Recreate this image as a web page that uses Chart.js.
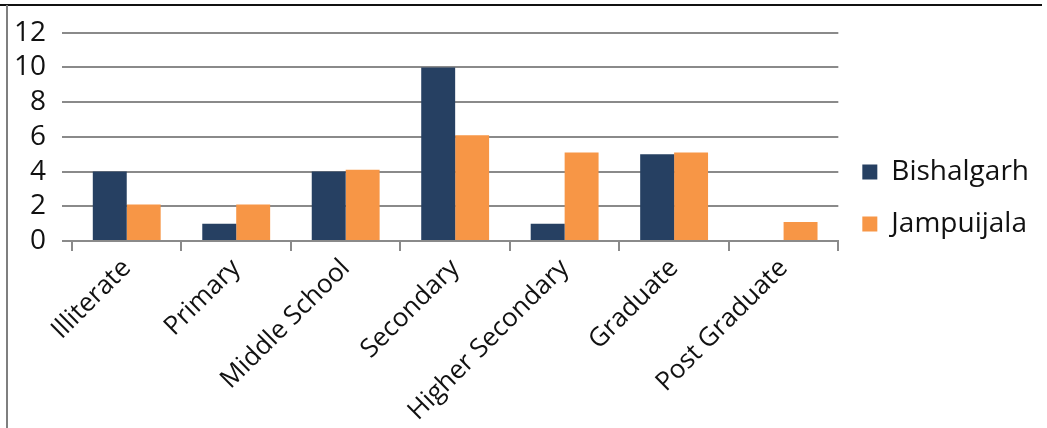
<!DOCTYPE html>
<html>
<head>
<meta charset="utf-8">
<script src="https://cdn.jsdelivr.net/npm/chart.js@4.4.1/dist/chart.umd.min.js"></script>
<style>
  html, body { margin: 0; padding: 0; background: #fff; }
  #wrap { position: relative; width: 1047px; height: 428px; }
  #frameTop { position: absolute; left: 0; top: 4px; width: 1042px; height: 2px; background: #111; }
  #frameLeft { position: absolute; left: 6px; top: 5px; width: 2px; height: 423px; background: #7f7f7f; }
</style>
</head>
<body>
<div id="wrap">
  <canvas id="eduChart" width="1047" height="428"></canvas>
  <div id="frameTop"></div>
  <div id="frameLeft"></div>
</div>
<script>
// Data
const categories = ['Illiterate', 'Primary', 'Middle School', 'Secondary', 'Higher Secondary', 'Graduate', 'Post Graduate'];
const bishalgarh = [4, 1, 4, 10, 1, 5, 0];
const jampuijala = [2.1, 2.1, 4.1, 6.1, 5.1, 5.1, 1.1];
const yTicks = [0, 2, 4, 6, 8, 10, 12];

const gridGrey = '#8a8a8a';
const fontFamily = '"Open Sans", Lato, sans-serif';

const ctx = document.getElementById('eduChart').getContext('2d');
const chart = new Chart(ctx, {
    type: 'bar',
    data: {
        labels: categories,
        datasets: [{
            label: 'Bishalgarh',
            data: bishalgarh,
            backgroundColor: '#264062',
            borderWidth: 0
        }, {
            label: 'Jampuijala',
            data: jampuijala,
            backgroundColor: '#f79646',
            borderWidth: 0
        }]
    },
    options: {
        responsive: false,
        animation: false,
        layout: {
            padding: { top: 28, bottom: 0, left: 0, right: 8 }
        },
        datasets: {
            bar: { categoryPercentage: 0.62, barPercentage: 1.0 }
        },
        plugins: {
            tooltip: { enabled: false },
            legend: {
                position: 'right',
                align: 'start',
                // empty title only pushes the two legend rows down
                title: { display: true, text: ' ', font: { size: 10 }, padding: { top: 94, bottom: 0 } },
                labels: {
                    color: '#111',
                    boxWidth: 15,
                    boxHeight: 15,
                    padding: 24,
                    font: { family: fontFamily, size: 28 }
                }
            }
        },
        scales: {
            x: {
                grid: {
                    display: true,
                    drawOnChartArea: false,
                    color: gridGrey,
                    lineWidth: 2,
                    tickLength: 10
                },
                border: { display: true, color: gridGrey, width: 2 },
                ticks: {
                    color: '#111',
                    maxRotation: 45,
                    minRotation: 45,
                    padding: 2,
                    autoSkip: false,
                    font: { family: fontFamily, size: 26 }
                },
                afterFit: s => { s.height = 187; }
            },
            y: {
                min: 0,
                max: 12,
                afterBuildTicks: s => { s.ticks = yTicks.map(v => ({ value: v })); },
                grid: {
                    color: gridGrey,
                    lineWidth: 2,
                    tickLength: 10
                },
                border: { display: false },
                ticks: {
                    color: '#111',
                    padding: 16,
                    autoSkip: false,
                    font: { family: fontFamily, size: 28 }
                },
                afterFit: s => { s.width = 72; }
            }
        }
    }
});
</script>
</body>
</html>
